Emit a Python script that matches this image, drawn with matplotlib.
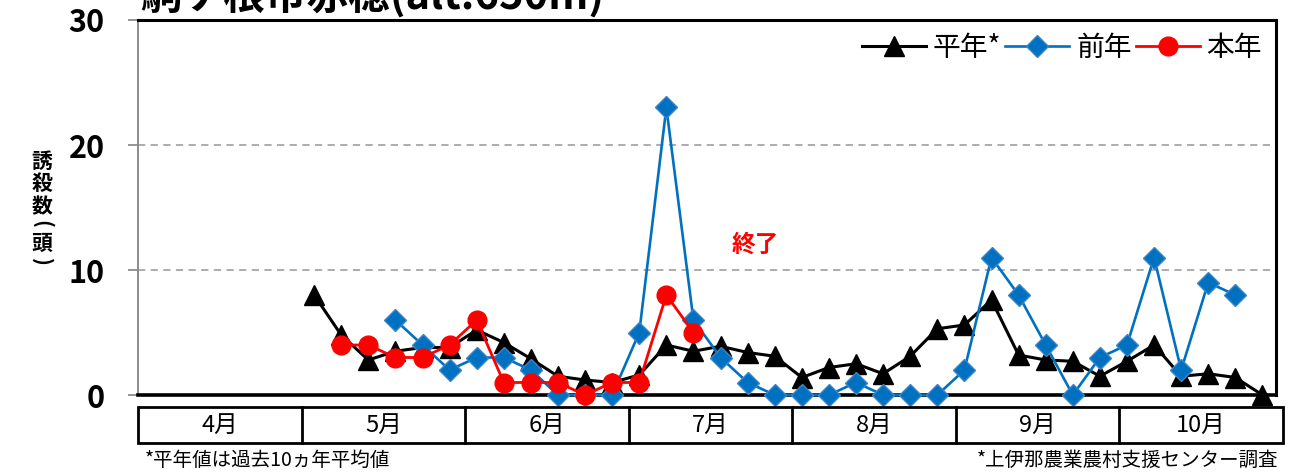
import numpy as np
import matplotlib
matplotlib.use("Agg")
import matplotlib.pyplot as plt
from matplotlib.patches import Rectangle

plt.rcParams['font.family'] = ['Noto Sans CJK JP', 'DejaVu Sans']

# 42 pentad slots: Apr 1st .. Oct 6th
months = ['4月', '5月', '6月', '7月', '8月', '9月', '10月']
n_slots = 42

# 平年 (10-year mean), starts at slot 6 (May 1st pentad)
heinen_start = 6
heinen = [8.0, 4.8, 2.8, 3.5, 3.8, 3.8, 5.2, 4.2, 2.9, 1.5, 1.2, 1.0,
          1.6, 4.0, 3.5, 3.9, 3.4, 3.1, 1.4, 2.2, 2.5, 1.7, 3.1, 5.3,
          5.6, 7.6, 3.2, 2.8, 2.7, 1.5, 2.7, 4.0, 1.5, 1.7, 1.4, 0.0]

# 前年 (last year), starts at slot 9
zennen_start = 9
zennen = [6, 4, 2, 3, 3, 2, 0, 0, 0, 5, 23, 6, 3, 1, 0, 0, 0, 1, 0, 0,
          0, 2, 11, 8, 4, 0, 3, 4, 11, 2, 9, 8]

# 本年 (this year), starts at slot 7
honnen_start = 7
honnen = [4, 4, 3, 3, 4, 6, 1, 1, 1, 0, 1, 1, 8, 5]

W, H = 1300, 473
fig = plt.figure(figsize=(W / 100, H / 100), dpi=100)
ax = fig.add_axes([138 / W, 1 - 395 / H, (1276 - 138) / W, (395 - 20) / H])


def xs(start, vals):
    return np.arange(start, start + len(vals)) + 0.5


ax.plot(xs(heinen_start, heinen), heinen, color='black', lw=2.2,
        marker='^', ms=14, label='平年*', zorder=3, clip_on=False)
ax.plot(xs(zennen_start, zennen), zennen, color='#0070C0', lw=1.9,
        marker='D', ms=11, mec='#3D85C6', mew=1, label='前年', zorder=4,
        clip_on=False)
ax.plot(xs(honnen_start, honnen), honnen, color='#FF0000', lw=2.0,
        marker='o', ms=13.5, label='本年', zorder=5, clip_on=False)

ax.set_xlim(0, n_slots)
ax.set_ylim(0, 30)
ax.set_xticks([])
ax.set_yticks([0, 10, 20, 30])
ax.set_yticklabels(['0', '10', '20', '30'], fontsize=22, fontweight='bold')
ax.tick_params(axis='y', length=7, width=1.3, color='#8C8C8C', pad=17)
ax.yaxis.grid(True, ls=(0, (4, 3)), color='#A6A6A6', lw=1.3)
ax.set_axisbelow(True)

for s in ['top', 'right']:
    ax.spines[s].set_linewidth(2.2)
    ax.spines[s].set_color('black')
ax.spines['bottom'].set_linewidth(2.6)
ax.spines['left'].set_linewidth(1.4)
ax.spines['left'].set_color('#8C8C8C')

ax.legend(loc='upper right', ncol=3, frameon=False, fontsize=20,
          handlelength=2.3, handletextpad=0.25, columnspacing=0.15,
          borderpad=0, borderaxespad=0,
          bbox_to_anchor=((1262 - 138) / 1138, (395 - 33) / 375))

fig.text(755 / W, 1 - 245 / H, '終了', color='#FF0000', fontsize=17,
         fontweight='bold', ha='center', va='center')

# y label, stacked upright characters
ylab_x = 42 / W
for ch, ypix, rot in [('誘', 161, 0), ('殺', 184, 0), ('数', 207, 0),
                      ('(', 224, -90), ('頭', 243, 0), (')', 262, -90)]:
    fig.text(ylab_x, 1 - ypix / H, ch, fontsize=15, fontweight='bold',
             ha='center', va='center', rotation=rot)

# title (partly cut off at the top edge, as in the source)
fig.text(140 / W, 1 - 9 / H, '駒ケ根市赤穂(alt.650m)', fontsize=30,
         fontweight='bold', ha='left', va='baseline')

# month table under the chart
tab = fig.add_axes([138 / W, 1 - 443 / H, (1283 - 138) / W, (443 - 407) / H])
tab.set_xlim(0, len(months))
tab.set_ylim(0, 1)
tab.axis('off')
tab.add_patch(Rectangle((0, 0), len(months), 1, fill=False, lw=2,
                        ec='black', clip_on=False))
for i, m in enumerate(months):
    if i > 0:
        tab.plot([i, i], [0, 1], color='black', lw=2, clip_on=False)
    tab.text(i + 0.5, 0.5, m, ha='center', va='center', fontsize=17)

fig.text(145 / W, 1 - 460 / H, '*平年値は過去10ヵ年平均値', fontsize=14,
         ha='left', va='center')
fig.text(1278 / W, 1 - 460 / H, '*上伊那農業農村支援センター調査', fontsize=14,
         ha='right', va='center')

fig.savefig('out.png', dpi=100)
